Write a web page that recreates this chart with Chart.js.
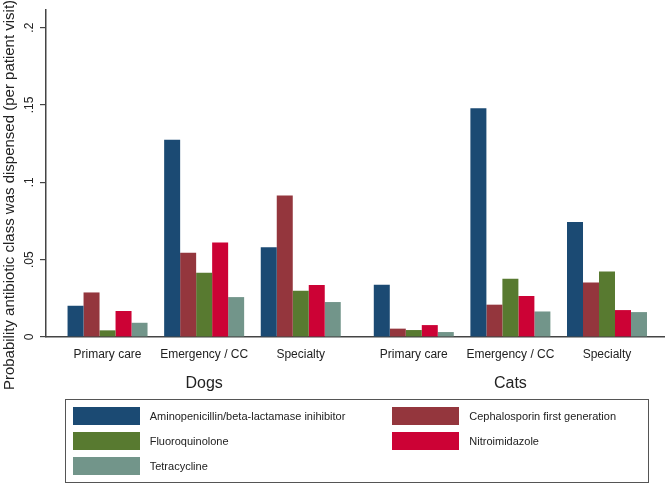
<!DOCTYPE html>
<html>
<head>
<meta charset="utf-8">
<script src="https://cdn.jsdelivr.net/npm/chart.js@4.4.1/dist/chart.umd.min.js"></script>
<style>
  body { margin: 0; background: #fff; font-family: 'Liberation Sans', Arial, sans-serif; }
  #wrap { position: relative; width: 670px; height: 484px; }
  #legend { position: absolute; left: 65px; top: 399px; width: 584px; height: 84px; border: 1px solid #555; box-sizing: border-box; }
  .item { position: absolute; height: 18px; font-size: 11px; color: #222; }
  .swatch { position: absolute; left: 0; top: 0; width: 67px; height: 18px; }
  .label { position: absolute; left: 77px; top: 0; line-height: 18px; white-space: nowrap; }
</style>
</head>
<body>
<div id="wrap">
  <canvas id="barChart" width="670" height="484"></canvas>
  <div id="legend"></div>
</div>
<script>
const species = ['Dogs', 'Cats'];
const settings = ['Primary care', 'Emergency / CC', 'Specialty'];
const classNames = [
  'Aminopenicillin/beta-lactamase inihibitor',
  'Cephalosporin first generation',
  'Fluoroquinolone',
  'Nitroimidazole',
  'Tetracycline'
];
// order: Dogs primary, emergency, specialty, Cats primary, emergency, specialty
const aminopenicillin = [0.0202, 0.1275, 0.0581, 0.0338, 0.1479, 0.0743];
const cephalosporin   = [0.0288, 0.0545, 0.0915, 0.0054, 0.0209, 0.0353];
const fluoroquinolone = [0.0043, 0.0415, 0.0299, 0.0045, 0.0377, 0.0424];
const nitroimidazole  = [0.0168, 0.0611, 0.0336, 0.0077, 0.0265, 0.0174];
const tetracycline    = [0.0092, 0.0258, 0.0226, 0.0032, 0.0165, 0.0161];
const yTicks = [0, 0.05, 0.1, 0.15, 0.2];
const yTitle = 'Probability antibiotic class was dispensed (per patient visit)';

const classValues = [aminopenicillin, cephalosporin, fluoroquinolone, nitroimidazole, tetracycline];
const classColors = ['#1b4a73', '#94363d', '#587a30', '#cc0235', '#72958a'];

// x layout: one unit per setting, a bit of extra space between species
const speciesGap = 0.17;
let positions = [];
let barLabels = [];
species.forEach((sp, s) => {
  settings.forEach((st, c) => {
    positions.push(s * (settings.length + speciesGap) + c);
    barLabels.push(st);
  });
});
const speciesCenters = species.map((sp, s) => s * (settings.length + speciesGap) + (settings.length - 1) / 2);

const fontFamily = "'Liberation Sans', Arial, sans-serif";
const axisColor = '#444';
const textColor = '#222';

function formatTick(v) {
  if (v === 0) return '0';
  return String(v).replace(/^0\./, '.');
}

function buildDatasets() {
  return classNames.map((name, k) => ({
    label: name,
    data: classValues[k].map((v, i) => ({ x: positions[i], y: v })),
    backgroundColor: classColors[k],
    borderWidth: 0,
    categoryPercentage: 0.828,
    barPercentage: 1
  }));
}

// Stata puts the axis title centred on the whole left side, so draw it here
const yTitlePlugin = {
  id: 'yTitle',
  afterDraw(chart) {
    const ctx = chart.ctx;
    ctx.save();
    ctx.translate(9.5, 195);
    ctx.rotate(-Math.PI / 2);
    ctx.font = '15px ' + fontFamily;
    ctx.fillStyle = textColor;
    ctx.textAlign = 'center';
    ctx.textBaseline = 'middle';
    ctx.fillText(yTitle, 0, 0);
    ctx.restore();
  }
};

function buildLegend(chart) {
  const legend = document.getElementById('legend');
  legend.innerHTML = '';
  chart.data.datasets.forEach((ds, i) => {
    const col = i % 2;
    const row = Math.floor(i / 2);
    const item = document.createElement('div');
    item.className = 'item';
    item.style.left = (col === 0 ? 6.7 : 326.3) + 'px';
    item.style.top = (6.7 + row * 25) + 'px';
    item.innerHTML = `<div class="swatch" style="background:${ds.backgroundColor}"></div>
                      <div class="label">${ds.label}</div>`;
    legend.appendChild(item);
  });
}

const ctx = document.getElementById('barChart').getContext('2d');
const barChart = new Chart(ctx, {
  type: 'bar',
  data: { datasets: buildDatasets() },
  options: {
    responsive: false,
    devicePixelRatio: 1,
    animation: false,
    layout: { padding: { top: 10, right: 6, bottom: 82, left: 0 } },
    plugins: {
      legend: { display: false },
      tooltip: { enabled: false }
    },
    scales: {
      x: {
        type: 'linear',
        position: 'bottom',
        min: -0.637,
        max: 5.76,
        offset: false,
        grid: { display: false, drawTicks: false },
        border: { display: true, color: axisColor, width: 1.5 },
        afterBuildTicks: scale => { scale.ticks = positions.map(v => ({ value: v })); },
        afterFit: scale => { scale.height = 30; },
        ticks: {
          callback: (v, i) => barLabels[i],
          autoSkip: false,
          minRotation: 0,
          maxRotation: 0,
          padding: 10,
          color: textColor,
          font: { family: fontFamily, size: 12 }
        }
      },
      x2: {
        type: 'linear',
        position: 'bottom',
        weight: 1,
        min: -0.637,
        max: 5.76,
        offset: false,
        grid: { display: false, drawTicks: false },
        border: { display: false },
        afterBuildTicks: scale => { scale.ticks = speciesCenters.map(v => ({ value: v })); },
        afterFit: scale => { scale.height = 35; },
        ticks: {
          callback: (v, i) => species[i],
          autoSkip: false,
          minRotation: 0,
          maxRotation: 0,
          padding: 7,
          color: textColor,
          font: { family: fontFamily, size: 16 }
        }
      },
      y: {
        position: 'left',
        min: 0,
        max: 0.2114,
        afterBuildTicks: scale => { scale.ticks = yTicks.map(v => ({ value: v })); },
        afterFit: scale => { scale.width = 46; },
        grid: { drawOnChartArea: false, drawTicks: true, tickLength: 6, color: axisColor, lineWidth: 1.2 },
        border: { display: true, color: axisColor, width: 1.5 },
        ticks: {
          callback: v => formatTick(v),
          minRotation: 90,
          maxRotation: 90,
          crossAlign: 'center',
          padding: 2,
          color: textColor,
          font: { family: fontFamily, size: 12 }
        }
      }
    }
  },
  plugins: [yTitlePlugin]
});

buildLegend(barChart);
</script>
</body>
</html>
